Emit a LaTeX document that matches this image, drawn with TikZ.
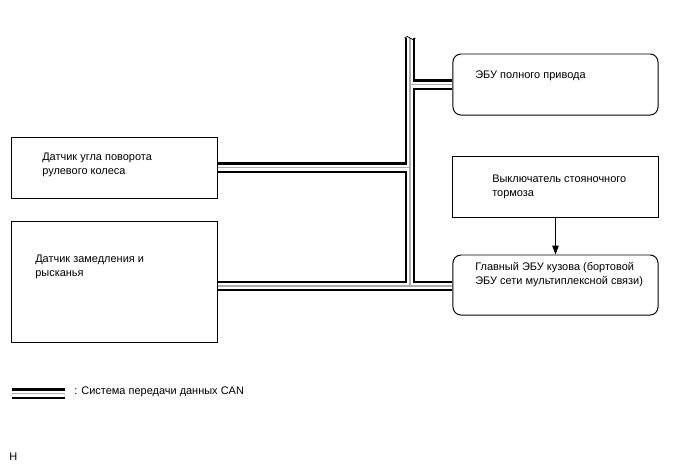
\documentclass[tikz,border=0pt]{standalone}
\usepackage{fontspec}
\setmainfont{Liberation Sans}
\usetikzlibrary{arrows.meta,positioning,calc}

\begin{document}
\begin{tikzpicture}[x=0.025cm, y=-0.025cm,
          box/.style={draw,line width=0.7pt,minimum width=5.125cm,minimum height=1.525cm,inner sep=0pt},
          ecu/.style={box,rounded corners=0.2cm},
          txt/.style={anchor=west,align=left,inner sep=0pt,font=\fontsize{7.8}{10}\selectfont},
          canbus/.style={draw=white,line width=0.15cm,
            preaction={draw=black,line width=0.27cm},
            postaction={draw=gray!65,line width=1pt}},
          signal/.style={-{Triangle[length=2.2mm,width=1.6mm]},line width=0.6pt}
      ]
        \useasboundingbox (0,0) rectangle (688,463);
        % boxes
        \node[box]                     (ssen) at (114.5,167.5) {};
        \node[box,minimum height=3.025cm] (ysen) at (114.5,281.5) {};
        \node[ecu]                     (awd)  at (555.5,84.5)  {};
        \node[box]                     (pkb)  at (555.5,186.5) {};
        \node[ecu,minimum height=1.5cm] (mecu) at (555.5,285)  {};
        % texts
        \node[txt] (ssent) at (42,165)  {Датчик угла поворота\\рулевого колеса};
        \node[txt] (ysent) at (35,267)  {Датчик замедления и\\рысканья};
        \node[txt] (awdt)  at (475,76)  {ЭБУ полного привода};
        \node[txt] (pkbt)  at (492,187) {Выключатель стояночного\\тормоза};
        \node[txt] (mecut) at (475,275) {Главный ЭБУ кузова (бортовой\\ЭБУ сети мультиплексной связи)};
        % CAN bus
        \coordinate (top) at (410,38);
        \coordinate (j1)  at (410,84.5);
        \coordinate (j2)  at (410,167.5);
        \coordinate (j3)  at (410,286);
        \draw[canbus] (top) -- (j3)
                      (j1) -- (j1 -| awd.west)
                      (ssen.east) -- (j2)
                      (ysen.east |- j3) -- (j3 -| mecu.west);
        \draw[line width=0.5pt] ($(top)+(-5.5,0)$) sin ++(2.75,-1.5) cos ++(2.75,1.5)
                                 sin ++(2.75,1.5) cos ++(2.75,-1.5);
        \draw[signal] (pkb.south) -- (mecu.north);
        % legend
        \coordinate (leg1) at (12,393.5);
        \coordinate (leg2) at (65,393.5);
        \draw[canbus] (leg1) -- (leg2);
        \node[txt] (legt) at (74,392) {: Система передачи данных CAN};
        \node[txt] (mark) at (9,457)  {H};
      \end{tikzpicture}
\end{document}
